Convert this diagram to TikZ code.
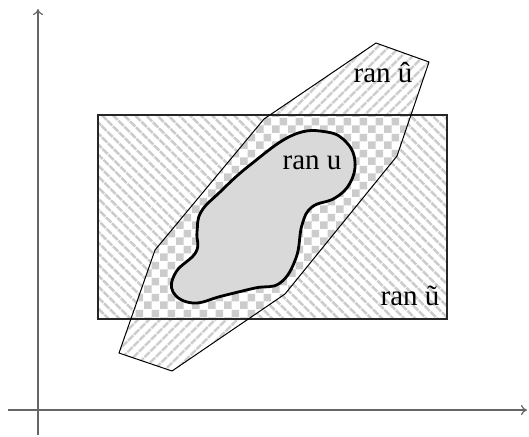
\documentclass[tikz,border=0pt]{standalone}
\usepackage{fontspec}
\setmainfont{Liberation Serif}
\usetikzlibrary{patterns,patterns.meta,arrows.meta}
\tikzdeclarepattern{
  name=smallchecker,
  type=uncolored,
  bounding box={(0pt,0pt) and (8pt,8pt)},
  tile size={(8pt,8pt)},
  code={
    \pgfpathrectangle{\pgfpointorigin}{\pgfqpoint{4pt}{4pt}}
    \pgfpathrectangle{\pgfqpoint{4pt}{4pt}}{\pgfqpoint{4pt}{4pt}}
    \pgfusepath{fill}
  }
}
\tikzset{
  hatchrect/.style={pattern={Lines[angle=-45,distance=4pt,line width=1.4pt]},pattern color=gray!40},
  hatchhull/.style={pattern={Lines[angle=45,distance=4pt,line width=1.4pt]},pattern color=gray!40},
  overlap/.style={pattern=smallchecker,pattern color=gray!40},
  ranlabel/.style={font=\fontsize{14.5}{16}\selectfont,inner sep=0pt},
  axis/.style={gray!80!black,line width=0.6pt,-{To[length=3pt,width=5pt]}}
}
\begin{document}
\begin{tikzpicture}[x=0.5pt,y=-0.5pt]
  \useasboundingbox (0,0) rectangle (529,436);
  \def\hullpath{(376,43) -- (429,62) -- (397,156) -- (285,294) -- (172,371) -- (119,353) -- (155,250) -- (264,119) -- cycle}
  % hull and rectangle, hatched
  \fill[white] \hullpath;
  \fill[hatchhull] \hullpath;
  \fill[white] (98,115) rectangle (447,319);
  \fill[hatchrect] (98,115) rectangle (447,319);
  % overlap, checkerboard
  \begin{scope}
    \clip \hullpath;
    \fill[white] (98,115) rectangle (447,319);
    \fill[overlap] (98,115) rectangle (447,319);
  \end{scope}
  \draw[line width=0.6pt,black!85] (98,115) rectangle (447,319);
  \draw[line width=0.5pt,line join=round] \hullpath;
  % the set ran u
  \filldraw[fill=gray!30,line width=1.4pt] plot[smooth cycle,tension=0.7] coordinates {
    (293,135) (327,132) (347,143) (355,162) (350,183) (335,198) (312,207) (302,225)
    (296,258) (280,283) (255,288) (222,296) (193,303) (173,292) (176,272) (196,252)
    (197,232) (201,212) (220,192) (250,165)};
  % labels
  \node[ranlabel] (ranhat) at (383,73) {ran \^u};
  \node[ranlabel] (ranu) at (312,163) {ran u};
  \node[ranlabel] (rantilde) at (410,296) {ran \~u};
  % axes
  \coordinate (xs) at (8,410);
  \coordinate (xe) at (527,410);
  \coordinate (ys) at (38,435);
  \coordinate (ye) at (38,9);
  \draw[axis] (xs) -- (xe);
  \draw[axis] (ys) -- (ye);
\end{tikzpicture}
\end{document}
